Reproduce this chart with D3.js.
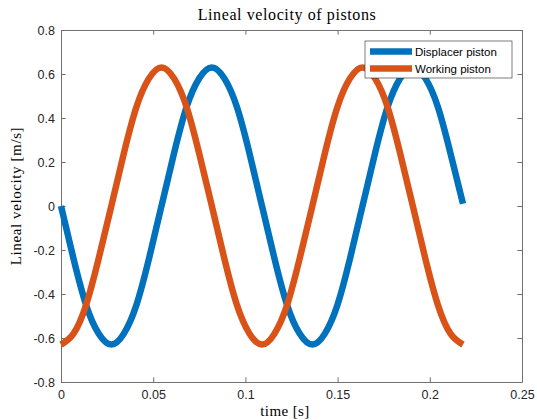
<!DOCTYPE html>
<html>
<head>
<meta charset="utf-8">
<script src="https://cdn.jsdelivr.net/npm/d3@7"></script>
<style>
  body { margin: 0; background: #fff; }
  svg { display: block; }
  .tick text { font-family: "Liberation Sans", Arial, sans-serif; font-size: 12.5px; fill: #262626; }
</style>
</head>
<body>
<div id="chart"></div>
<script>
// time samples [s]
var time = [0, 0.0068, 0.0136, 0.0204, 0.0273, 0.0341, 0.0409, 0.0477, 0.0545, 0.0613,
  0.0681, 0.0749, 0.0818, 0.0886, 0.0954, 0.1022, 0.109, 0.1158, 0.1226, 0.1294,
  0.1363, 0.1431, 0.1499, 0.1567, 0.1635, 0.1703, 0.1771, 0.1839, 0.1908, 0.1976,
  0.2044, 0.2112, 0.218];

// displacer piston velocity [m/s]
var displacer = [0, -0.24, -0.45, -0.58, -0.63, -0.58, -0.45, -0.24, 0, 0.24,
  0.45, 0.58, 0.63, 0.58, 0.45, 0.24, 0, -0.24, -0.45, -0.58,
  -0.63, -0.58, -0.45, -0.24, 0, 0.24, 0.45, 0.58, 0.63, 0.58,
  0.45, 0.24, 0.01];

// working piston velocity [m/s]
var working = [-0.63, -0.58, -0.45, -0.24, 0, 0.24, 0.45, 0.58, 0.63, 0.58,
  0.45, 0.24, 0, -0.24, -0.45, -0.58, -0.63, -0.58, -0.45, -0.24,
  0, 0.24, 0.45, 0.58, 0.63, 0.58, 0.45, 0.24, 0, -0.24,
  -0.45, -0.58, -0.63];

var xTicks = [0, 0.05, 0.1, 0.15, 0.2, 0.25];
var yTicks = [-0.8, -0.6, -0.4, -0.2, 0, 0.2, 0.4, 0.6, 0.8];
var seriesNames = ["Displacer piston", "Working piston"];
var colors = ["#0072BD", "#D95319"];

var W = 537, H = 420;
var margin = {top: 30, right: 15, bottom: 38, left: 61};
var width = W - margin.left - margin.right;
var height = H - margin.top - margin.bottom;

var svg = d3.select("#chart").append("svg")
    .attr("width", W)
    .attr("height", H);

var g = svg.append("g")
    .attr("transform", "translate(" + margin.left + "," + margin.top + ")");

var x = d3.scaleLinear().domain([0, 0.25]).range([0, width]);
var y = d3.scaleLinear().domain([-0.8, 0.8]).range([height, 0]);

var axisColor = "#707070";
var tickLen = 4.6;

// axes (ticks pointing inward, box on)
var xAxis = g.append("g")
    .attr("transform", "translate(0," + height + ")")
    .call(d3.axisBottom(x).tickValues(xTicks).tickSizeInner(-tickLen).tickSizeOuter(0)
      .tickPadding(8).tickFormat(function(d) { return d3.format("")(d); }));
var yAxis = g.append("g")
    .call(d3.axisLeft(y).tickValues(yTicks).tickSizeInner(-tickLen).tickSizeOuter(0)
      .tickPadding(6).tickFormat(function(d) { return d3.format("")(d).replace("−", "-"); }));
var xTop = g.append("g")
    .call(d3.axisTop(x).tickValues(xTicks).tickSizeInner(-tickLen).tickSizeOuter(0).tickFormat(""));
var yRight = g.append("g")
    .attr("transform", "translate(" + width + ",0)")
    .call(d3.axisRight(y).tickValues(yTicks).tickSizeInner(-tickLen).tickSizeOuter(0).tickFormat(""));

[xAxis, yAxis, xTop, yRight].forEach(function(a) {
  a.selectAll("path, line").attr("stroke", axisColor).attr("stroke-width", 1);
});

// lines
var line = d3.line()
    .x(function(d) { return x(d[0]); })
    .y(function(d) { return y(d[1]); })
    .curve(d3.curveNatural);

[displacer, working].forEach(function(vals, i) {
  g.append("path")
    .datum(time.map(function(t, k) { return [t, vals[k]]; }))
    .attr("fill", "none")
    .attr("stroke", colors[i])
    .attr("stroke-width", 6.5)
    .attr("stroke-linecap", "butt")
    .attr("stroke-linejoin", "round")
    .attr("d", line);
});

// legend
var legend = svg.append("g").attr("transform", "translate(365,41)");
legend.append("rect")
    .attr("width", 147)
    .attr("height", 37)
    .attr("fill", "#fff")
    .attr("stroke", "#262626")
    .attr("stroke-width", 0.6);
seriesNames.forEach(function(name, i) {
  var ly = 10.5 + i * 17;
  legend.append("line")
    .attr("x1", 5).attr("x2", 47)
    .attr("y1", ly).attr("y2", ly)
    .attr("stroke", colors[i])
    .attr("stroke-width", 6.5);
  legend.append("text")
    .attr("x", 50)
    .attr("y", ly + 4)
    .style("font-family", "'Liberation Sans', Arial, sans-serif")
    .style("font-size", "11.5px")
    .style("fill", "#000")
    .text(name);
});

// title and axis labels
svg.append("text")
    .attr("x", 287)
    .attr("y", 20)
    .attr("text-anchor", "middle")
    .style("font-family", "'Liberation Serif', 'DejaVu Serif', serif")
    .style("font-size", "16px")
    .style("letter-spacing", "0.6px")
    .style("fill", "#000")
    .text("Lineal velocity of pistons");

svg.append("text")
    .attr("x", 285)
    .attr("y", 416)
    .attr("text-anchor", "middle")
    .style("font-family", "'Liberation Serif', 'DejaVu Serif', serif")
    .style("font-size", "15px")
    .style("letter-spacing", "0.4px")
    .style("fill", "#000")
    .text("time [s]");

svg.append("text")
    .attr("transform", "translate(21," + (margin.top + height / 2 - 10) + ") rotate(-90)")
    .attr("text-anchor", "middle")
    .style("font-family", "'Liberation Serif', 'DejaVu Serif', serif")
    .style("font-size", "15px")
    .style("letter-spacing", "0.6px")
    .style("fill", "#000")
    .text("Lineal velocity [m/s]");
</script>
</body>
</html>
